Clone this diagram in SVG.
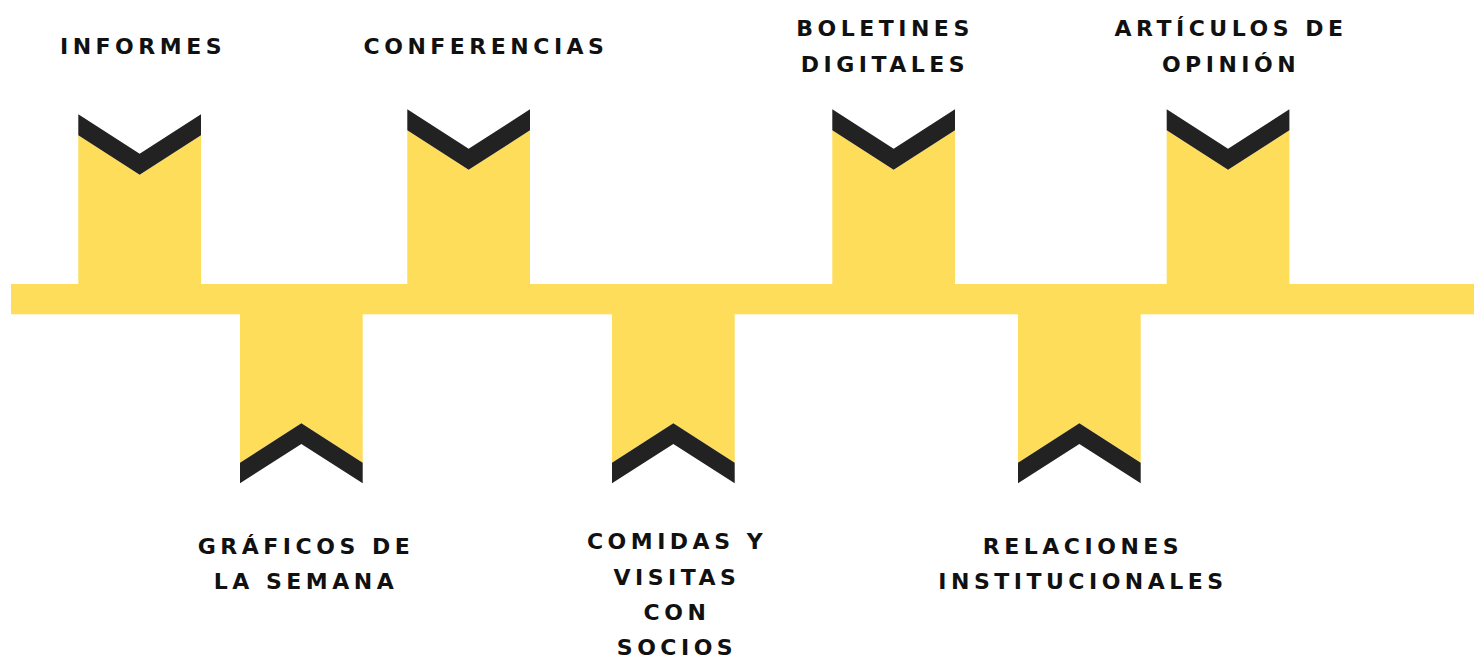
<svg xmlns="http://www.w3.org/2000/svg" xmlns:xlink="http://www.w3.org/1999/xlink" width="1474" height="659" viewBox="0 0 1474 659">
<style>
.y{fill:#FEDD5A}
.d{fill:#222222}
.t{font-family:"DejaVu Sans","Liberation Sans",sans-serif;font-weight:bold;font-size:22px;letter-spacing:4.5px;fill:#111111;text-anchor:middle}
</style>
<defs>
<g id="top">
<path class="y" d="M0 21 L61.35 60.5 L122.7 21 V178 H0Z"/>
<path class="d" d="M0 0 L61.35 39.5 L122.7 0 V21 L61.35 60.5 L0 21Z"/>
</g>
<g id="bot">
<path class="y" d="M0 -2 H122.7 V148.7 L61.35 109.3 L0 148.7Z"/>
<path class="d" d="M0 148.7 L61.35 109.3 L122.7 148.7 V169.3 L61.35 130 L0 169.3Z"/>
</g>
</defs>
<g id="connectors">
<rect class="y" x="11" y="284" width="1463" height="30.3"/>
</g>
<g id="informes">
<use xlink:href="#top" x="78.3" y="114.3"/>
<text class="t" x="143" y="54">INFORMES</text>
</g>
<g id="conferencias">
<use xlink:href="#top" x="407.3" y="109.3"/>
<text class="t" x="486" y="54">CONFERENCIAS</text>
</g>
<g id="boletines">
<use xlink:href="#top" x="832.3" y="109.3"/>
<text class="t" x="885" y="36">BOLETINES</text>
<text class="t" x="885" y="72">DIGITALES</text>
</g>
<g id="articulos">
<use xlink:href="#top" x="1166.7" y="109.3"/>
<text class="t" x="1231" y="36">ARTÍCULOS DE</text>
<text class="t" x="1231" y="72">OPINIÓN</text>
</g>
<g id="graficos">
<use xlink:href="#bot" x="240" y="314"/>
<text class="t" x="306" y="554">GRÁFICOS DE</text>
<text class="t" x="306" y="589">LA SEMANA</text>
</g>
<g id="comidas">
<use xlink:href="#bot" x="612" y="314"/>
<text class="t" x="677" y="549">COMIDAS Y</text>
<text class="t" x="677" y="584.5">VISITAS</text>
<text class="t" x="677" y="620">CON</text>
<text class="t" x="677" y="655">SOCIOS</text>
</g>
<g id="relaciones">
<use xlink:href="#bot" x="1018" y="314"/>
<text class="t" x="1083" y="554">RELACIONES</text>
<text class="t" x="1083" y="589">INSTITUCIONALES</text>
</g>
</svg>
